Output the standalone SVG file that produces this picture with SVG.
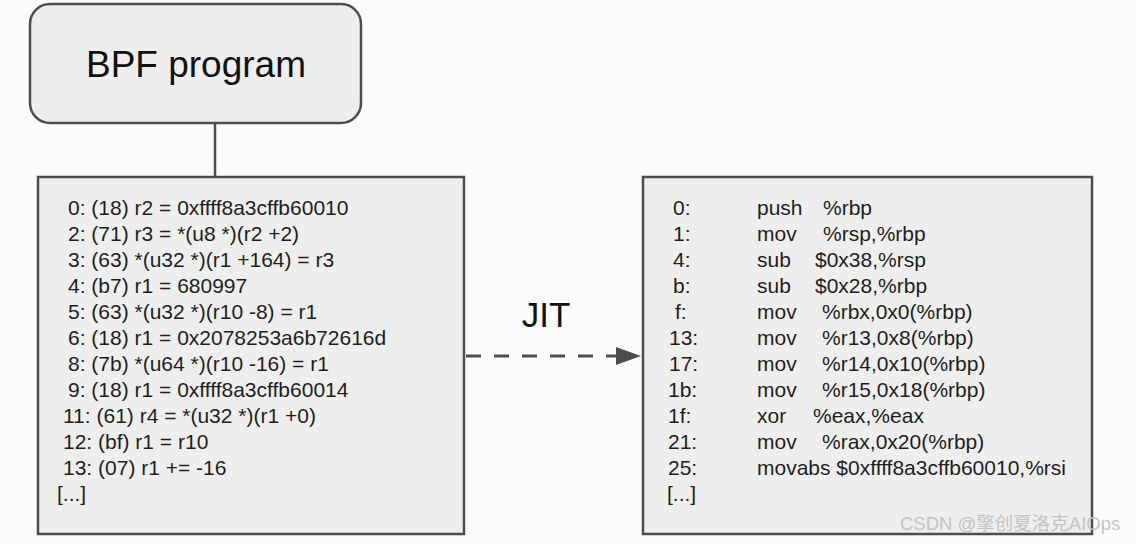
<svg xmlns="http://www.w3.org/2000/svg" width="1136" height="544" viewBox="0 0 1136 544">
<style>
.box{fill:#eeeeef;stroke:#4d4d4d;stroke-width:2.5}
.code{font-family:"Liberation Sans",Arial,sans-serif;font-size:21px;fill:#1e1e1e}
.big{font-family:"Liberation Sans",Arial,sans-serif;font-size:35px;fill:#111}
.conn{stroke:#4d4d4d;stroke-width:2.5;fill:none}
</style>
<rect width="1136" height="544" fill="#fcfcfc"/>
<g id="connectors">
<line class="conn" x1="215" y1="123" x2="215" y2="177"/>
<line x1="466" y1="356" x2="616" y2="356" stroke="#4d4d4d" stroke-width="3" stroke-dasharray="15,13"/>
<path d="M616,347 L641,356 L616,365 Z" fill="#4d4d4d"/>
</g>
<g id="bpf">
<rect class="box" x="30" y="4" width="331" height="119" rx="20"/>
<text class="big" x="196" y="77" text-anchor="middle" font-size="37" style="font-size:37px">BPF program</text>
</g>
<g id="jit-label">
<text class="big" x="546" y="327" text-anchor="middle">JIT</text>
</g>
<g id="bytecode">
<rect class="box" x="38" y="177" width="426" height="357"/>
<text class="code" x="68" y="215">0: (18) r2 = 0xffff8a3cffb60010</text>
<text class="code" x="68" y="241">2: (71) r3 = *(u8 *)(r2 +2)</text>
<text class="code" x="68" y="267">3: (63) *(u32 *)(r1 +164) = r3</text>
<text class="code" x="68" y="293">4: (b7) r1 = 680997</text>
<text class="code" x="68" y="319">5: (63) *(u32 *)(r10 -8) = r1</text>
<text class="code" x="68" y="345">6: (18) r1 = 0x2078253a6b72616d</text>
<text class="code" x="68" y="371">8: (7b) *(u64 *)(r10 -16) = r1</text>
<text class="code" x="68" y="397">9: (18) r1 = 0xffff8a3cffb60014</text>
<text class="code" x="63" y="423">11: (61) r4 = *(u32 *)(r1 +0)</text>
<text class="code" x="63" y="449">12: (bf) r1 = r10</text>
<text class="code" x="63" y="475">13: (07) r1 += -16</text>
<text class="code" x="57" y="501">[...]</text>
</g>
<g id="native">
<rect class="box" x="643" y="177" width="449" height="357"/>
<text class="code" x="673" y="215">0:</text><text class="code" x="757" y="215">push</text><text class="code" x="823" y="215">%rbp</text>
<text class="code" x="673" y="241">1:</text><text class="code" x="757" y="241">mov</text><text class="code" x="823" y="241">%rsp,%rbp</text>
<text class="code" x="673" y="267">4:</text><text class="code" x="757" y="267">sub</text><text class="code" x="815" y="267">$0x38,%rsp</text>
<text class="code" x="673" y="293">b:</text><text class="code" x="757" y="293">sub</text><text class="code" x="815" y="293">$0x28,%rbp</text>
<text class="code" x="675" y="319">f:</text><text class="code" x="757" y="319">mov</text><text class="code" x="822" y="319">%rbx,0x0(%rbp)</text>
<text class="code" x="669" y="345">13:</text><text class="code" x="757" y="345">mov</text><text class="code" x="822" y="345">%r13,0x8(%rbp)</text>
<text class="code" x="669" y="371">17:</text><text class="code" x="757" y="371">mov</text><text class="code" x="822" y="371">%r14,0x10(%rbp)</text>
<text class="code" x="668" y="397">1b:</text><text class="code" x="757" y="397">mov</text><text class="code" x="822" y="397">%r15,0x18(%rbp)</text>
<text class="code" x="668" y="423">1f:</text><text class="code" x="757" y="423">xor</text><text class="code" x="813" y="423">%eax,%eax</text>
<text class="code" x="668" y="449">21:</text><text class="code" x="757" y="449">mov</text><text class="code" x="822" y="449">%rax,0x20(%rbp)</text>
<text class="code" x="668" y="475">25:</text><text class="code" x="757" y="475">movabs $0xffff8a3cffb60010,%rsi</text>
<text class="code" x="667" y="501">[...]</text>
</g>
<text x="900" y="530" font-family="'Liberation Sans','Noto Sans CJK SC',sans-serif" font-size="18.5" fill="#c4c4c4">CSDN @擎创夏洛克AIOps</text>
</svg>
